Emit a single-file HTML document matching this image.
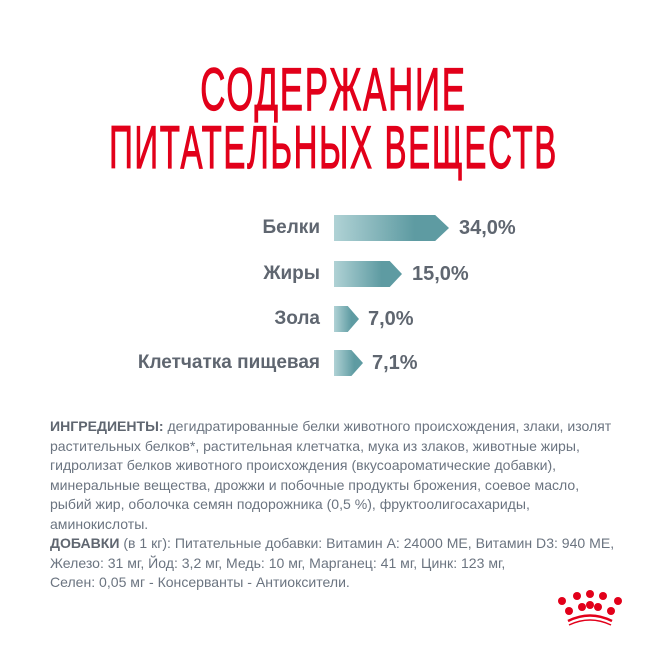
<!DOCTYPE html>
<html><head><meta charset="utf-8"><style>
body{margin:0;width:667px;height:667px;background:#fff;position:relative;overflow:hidden;font-family:"Liberation Sans",sans-serif}
.t{position:absolute;left:-300px;width:1267px;text-align:center;color:#e2001a;font-size:60px;line-height:60px;letter-spacing:3px;white-space:nowrap;transform-origin:50% 0;-webkit-text-stroke:1.2px #e2001a}
.lab{position:absolute;right:347px;color:#5f6670;font-weight:bold;font-size:19px;line-height:26px;white-space:nowrap}
.val{position:absolute;color:#5f6670;font-weight:bold;font-size:20px;line-height:26px}
.bar{position:absolute;left:334px;height:26px;background:linear-gradient(90deg,#b0d2d5,#5e9ba2 70%,#5e9ba2)}
.txt{position:absolute;left:50px;top:417px;color:#6b7480;font-size:14.05px;line-height:19.5px;white-space:nowrap}
.txt b{color:#5f6670}
</style></head><body>
<div class="t" style="top:60px;transform:scaleX(0.58)">СОДЕРЖАНИЕ</div>
<div class="t" style="top:118px;transform:scaleX(0.55)">ПИТАТЕЛЬНЫХ ВЕЩЕСТВ</div>

<div class="lab" style="top:215px">Белки</div>
<div class="bar" style="top:215px;width:115px;clip-path:polygon(0 0,88% 0,100% 50%,88% 100%,0 100%)"></div>
<div class="val" style="top:215px;left:459px">34,0%</div>

<div class="lab" style="top:261px">Жиры</div>
<div class="bar" style="top:261px;width:68px;clip-path:polygon(0 0,82% 0,100% 50%,82% 100%,0 100%)"></div>
<div class="val" style="top:261px;left:412px">15,0%</div>

<div class="lab" style="top:306px">Зола</div>
<div class="bar" style="top:306px;width:25px;clip-path:polygon(0 0,55% 0,100% 50%,55% 100%,0 100%)"></div>
<div class="val" style="top:306px;left:368px">7,0%</div>

<div class="lab" style="top:350px">Клетчатка пищевая</div>
<div class="bar" style="top:350px;width:29px;clip-path:polygon(0 0,60% 0,100% 50%,60% 100%,0 100%)"></div>
<div class="val" style="top:350px;left:372px">7,1%</div>

<div class="txt"><b>ИНГРЕДИЕНТЫ:</b> дегидратированные белки животного происхождения, злаки, изолят<br>растительных белков*, растительная клетчатка, мука из злаков, животные жиры,<br>гидролизат белков животного происхождения (вкусоароматические добавки),<br>минеральные вещества, дрожжи и побочные продукты брожения, соевое масло,<br>рыбий жир, оболочка семян подорожника (0,5 %), фруктоолигосахариды,<br>аминокислоты.<br><b>ДОБАВКИ</b> (в 1 кг): Питательные добавки: Витамин A: 24000 МЕ, Витамин D3: 940 МЕ,<br>Железо: 31 мг, Йод: 3,2 мг, Медь: 10 мг, Марганец: 41 мг, Цинк: 123 мг,<br>Селен: 0,05 мг - Консерванты - Антиоксители.</div>

<svg style="position:absolute;left:555px;top:588px" width="70" height="45" viewBox="0 0 70 45">
<g fill="#e2001a">
<circle cx="7" cy="13" r="4"/><circle cx="22" cy="8" r="4"/><circle cx="35" cy="6" r="4"/><circle cx="48" cy="8" r="4"/><circle cx="63" cy="13" r="4"/>
<circle cx="14" cy="23" r="4"/><circle cx="27" cy="19" r="4"/><circle cx="43" cy="19" r="4"/><circle cx="56" cy="23" r="4"/>
<circle cx="35" cy="17" r="4"/>
</g>
<path d="M13 33 Q35 22 57 33" stroke="#e2001a" stroke-width="2.5" fill="none"/>
<path d="M14 37 Q35 27 56 37" stroke="#e2001a" stroke-width="1.5" fill="none"/>
</svg>
</body></html>
